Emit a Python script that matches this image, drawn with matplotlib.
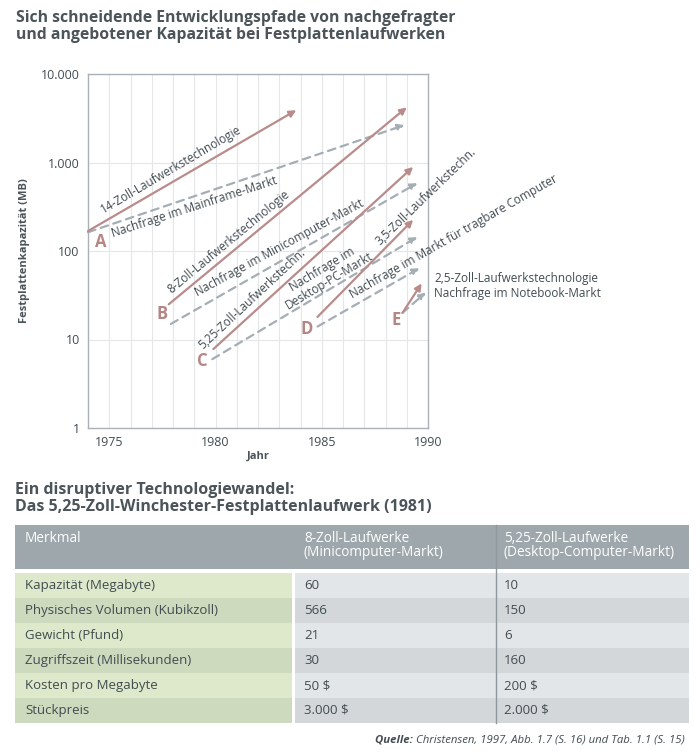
import matplotlib
matplotlib.use('Agg')
import matplotlib.pyplot as plt
from matplotlib.patches import Rectangle

plt.rcParams['font.family'] = ['Open Sans', 'DejaVu Sans']

# ------------ chart data --------------------------------------
letters = ['A', 'B', 'C', 'D', 'E']
letter_year = [1974.6, 1977.5, 1979.4, 1984.3, 1988.5]
letter_mb = [126, 19.4, 5.7, 13.1, 16.6]

# supplied capacity (solid arrows)
tech_start_year = [1974.0, 1977.8, 1979.9, 1984.8, 1988.8]
tech_start_mb = [168, 25, 7.8, 18, 20]
tech_end_year = [1983.8, 1989.0, 1989.3, 1989.3, 1989.7]
tech_end_mb = [3900, 4200, 890, 225, 43]

# demanded capacity (dashed arrows)
demand_start_year = [1974.0, 1977.9, 1979.85, 1984.8, 1988.8]
demand_start_mb = [163, 15, 6.0, 14, 20]
demand_end_year = [1988.9, 1989.5, 1989.5, 1989.6, 1989.9]
demand_end_mb = [2650, 585, 144, 64, 34]

# rotated labels along the arrows: text, year, MB, angle
label_text = ['14-Zoll-Laufwerkstechnologie', 'Nachfrage im Mainframe-Markt',
              '8-Zoll-Laufwerkstechnologie', 'Nachfrage im Minicomputer-Markt',
              '5,25-Zoll-Laufwerkstechn.', 'Nachfrage im\nDesktop-PC-Markt',
              '3,5-Zoll-Laufwerkstechn.', 'Nachfrage im Markt für tragbare Computer']
label_year = [1977.9, 1979.0, 1980.6, 1983.0, 1981.7, 1985.2, 1989.9, 1991.2]
label_mb = [823, 314, 126, 108, 28.7, 53.6, 408, 144]
label_angle = [30.5, 18, 39.6, 28.5, 43, 31, 44, 29.7]

years = [1975, 1980, 1985, 1990]
cap_ticks = [1, 10, 100, 1000, 10000]
cap_ticklabels = ['1', '10', '100', '1.000', '10.000']

# ------------ table data ---------------
col_heads = ['Merkmal', '8-Zoll-Laufwerke\n(Minicomputer-Markt)',
             '5,25-Zoll-Laufwerke\n(Desktop-Computer-Markt)']
features = ['Kapazität (Megabyte)', 'Physisches Volumen (Kubikzoll)', 'Gewicht (Pfund)',
            'Zugriffszeit (Millisekunden)', 'Kosten pro Megabyte', 'Stückpreis']
eight_inch = ['60', '566', '21', '30', '50 $', '3.000 $']
five_inch = ['10', '150', '6', '160', '200 $', '2.000 $']

TECH = '#b98c8b'
DEMAND = '#a4aeb4'
LETTER = '#b48785'
TXT = '#424c51'
HEAD = '#4b5459'

W, H = 700, 755
fig = plt.figure(figsize=(W / 100, H / 100), dpi=100)

# overlay in pixel coordinates for titles and the table
ov = fig.add_axes([0, 0, 1, 1], zorder=0)
ov.set_xlim(0, W)
ov.set_ylim(H, 0)
ov.axis('off')

ov.text(16, 10, 'Sich schneidende Entwicklungspfade von nachgefragter\n'
        'und angebotener Kapazität bei Festplattenlaufwerken',
        fontsize=11.3, fontweight='bold', color=HEAD, va='top', ha='left', linespacing=1.1)

# ------------ chart ---------------
ax = fig.add_axes([88 / W, 1 - 428 / H, 340 / W, 354 / H], zorder=2)
ax.set_yscale('log')
ax.set_xlim(1974, 1990)
ax.set_ylim(1, 10000)
ax.set_xticks(years)
ax.set_xticklabels([str(y) for y in years])
ax.set_xticks(range(1974, 1991), minor=True)
ax.set_yticks(cap_ticks)
ax.set_yticklabels(cap_ticklabels)
ax.yaxis.set_minor_locator(matplotlib.ticker.NullLocator())
ax.tick_params(which='both', length=0, labelsize=9, labelcolor=TXT, pad=6)
ax.grid(True, which='both', axis='x', color='#e4e6e8', lw=0.8)
ax.grid(True, which='major', axis='y', color='#e4e6e8', lw=0.8)
for s in ax.spines.values():
    s.set_color('#aab2b7')
    s.set_linewidth(1)
ax.set_xlabel('Jahr', fontsize=8, fontweight='bold', color=HEAD, labelpad=1)
ax.set_ylabel('Festplattenkapazität (MB)', fontsize=8, fontweight='bold', color=HEAD, labelpad=8)

for i in range(len(letters)):
    ax.annotate('', xy=(demand_end_year[i], demand_end_mb[i]),
                xytext=(demand_start_year[i], demand_start_mb[i]),
                arrowprops=dict(arrowstyle='-|>', color=DEMAND, lw=1.6, mutation_scale=10,
                                linestyle=(0, (3.5, 2.5)), shrinkA=0, shrinkB=0))
    ax.annotate('', xy=(tech_end_year[i], tech_end_mb[i]),
                xytext=(tech_start_year[i], tech_start_mb[i]),
                arrowprops=dict(arrowstyle='-|>', color=TECH, lw=1.6, mutation_scale=10,
                                shrinkA=0, shrinkB=0))
    ax.text(letter_year[i], letter_mb[i], letters[i], fontsize=12, fontweight='bold',
            color=LETTER, ha='center', va='center')

for t, x, y, a in zip(label_text, label_year, label_mb, label_angle):
    ax.text(x, y, t, rotation=a, rotation_mode='anchor', ha='center', va='center',
            fontsize=8.5, color=TXT, linespacing=1.0)

ax.text(1990.28, 40.2, '2,5-Zoll-Laufwerkstechnologie\nNachfrage im Notebook-Markt',
        ha='left', va='center', fontsize=8.5, color=TXT, linespacing=1.15)

# ------------ table ---------------
ov.text(15, 482, 'Ein disruptiver Technologiewandel:\n'
        'Das 5,25-Zoll-Winchester-Festplattenlaufwerk (1981)',
        fontsize=11.5, fontweight='bold', color=HEAD, va='top', ha='left', linespacing=1.05)

col_x = [15, 295, 496]
col_w = [277, 201, 193]
text_x = [25, 304, 504]
head_top, head_h = 525, 44
row_top, row_h = 573, 25

ov.add_patch(Rectangle((15, head_top), 674, head_h, color='#9ea7ac', lw=0))
for j, h in enumerate(col_heads):
    ov.text(text_x[j], head_top + 6, h, color='white', fontsize=9.8, va='top', ha='left',
            linespacing=0.95)

green = ['#dde9ca', '#cddabd']
grey = ['#e3e6e8', '#d3d7da']
for i, feat in enumerate(features):
    y0 = row_top + i * row_h
    ov.add_patch(Rectangle((col_x[0], y0), col_w[0], row_h, color=green[i % 2], lw=0))
    ov.add_patch(Rectangle((col_x[1], y0), 394, row_h, color=grey[i % 2], lw=0))
    yc = y0 + row_h / 2
    ov.text(text_x[0], yc, feat, fontsize=9.5, color=TXT, va='center', ha='left')
    ov.text(text_x[1], yc, eight_inch[i], fontsize=9.5, color=TXT, va='center', ha='left')
    ov.text(text_x[2], yc, five_inch[i], fontsize=9.5, color=TXT, va='center', ha='left')

ov.plot([col_x[2], col_x[2]], [head_top, row_top + len(features) * row_h],
        color='#8f989d', lw=1)

src = ov.text(685, 740, 'Christensen, 1997, Abb. 1.7 (S. 16) und Tab. 1.1 (S. 15)',
              fontsize=8.2, style='italic', color=TXT, ha='right', va='center')
ov.annotate('Quelle: ', xy=(0, 0.5), xycoords=src, fontsize=8.2, style='italic',
            fontweight='bold', color=TXT, ha='right', va='center')

fig.savefig('out.png', dpi=100)
